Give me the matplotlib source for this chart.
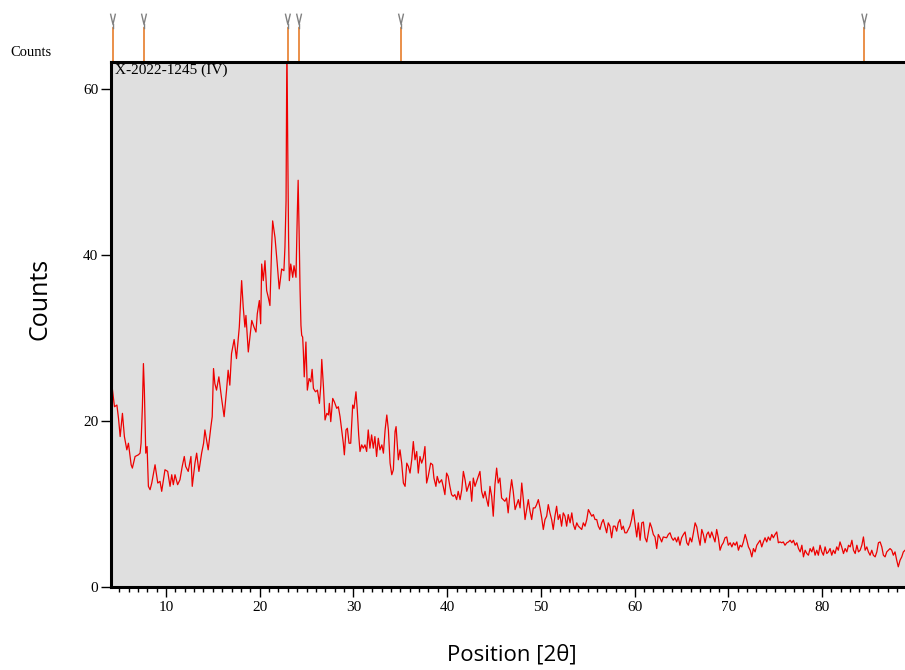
import matplotlib

matplotlib.use("Agg")
import matplotlib.pyplot as plt
import matplotlib.transforms as mtransforms
import numpy as np

# (2theta, counts), split by region
low_angle = [
    (4.15, 24.5), (4.26, 24.0), (4.50, 21.7), (4.76, 21.9), (4.93, 20.3), (5.11, 18.1),
    (5.35, 20.9), (5.56, 18.1), (5.82, 16.5), (5.99, 17.3), (6.28, 14.7), (6.41, 14.3),
    (6.70, 15.7), (7.05, 15.9), (7.23, 16.1), (7.34, 17.3), (7.48, 21.7), (7.59, 26.9),
    (7.69, 23.7), (7.84, 16.1), (7.98, 16.9), (8.12, 12.1), (8.30, 11.7), (8.48, 12.5),
    (8.83, 14.7), (9.12, 12.5), (9.36, 12.7), (9.54, 11.5), (9.89, 14.1), (10.18, 13.9),
    (10.43, 12.1), (10.61, 13.5), (10.78, 12.3), (10.96, 13.5), (11.24, 12.3), (11.49, 12.9),
    (11.73, 14.5), (11.95, 15.7), (12.10, 14.5), (12.37, 13.9), (12.66, 15.7), (12.80, 12.1),
    (13.09, 14.9), (13.27, 16.1), (13.51, 13.9), (13.80, 16.1), (14.01, 17.3), (14.15, 18.9),
    (14.33, 17.7), (14.50, 16.5), (14.79, 19.3), (14.93, 20.5), (15.07, 26.3), (15.21, 24.5),
    (15.39, 23.7), (15.64, 25.3), (15.93, 22.7), (16.20, 20.5), (16.46, 23.7), (16.63, 26.1),
    (16.81, 24.3), (16.99, 28.1), (17.27, 29.8), (17.52, 27.5),
]

hump = [
    (17.82, 31.3), (18.07, 36.9), (18.24, 33.7), (18.42, 31.3), (18.53, 32.7), (18.78, 28.3),
    (19.15, 32.1), (19.39, 31.3), (19.60, 30.7), (19.74, 32.9), (19.96, 34.5), (20.10, 31.7),
    (20.21, 38.9), (20.38, 36.9), (20.56, 39.3), (20.74, 35.7), (20.91, 34.9), (21.09, 33.9),
    (21.27, 40.9), (21.38, 44.1), (21.63, 42.1), (21.87, 38.9), (22.08, 35.9), (22.34, 38.3),
    (22.58, 38.1), (22.69, 40.9), (22.81, 46.5), (22.90, 66.0), (22.99, 53.0), (23.08, 42.0),
    (23.16, 36.9), (23.31, 38.9), (23.52, 37.3), (23.66, 38.7), (23.87, 37.3), (24.01, 45.0),
    (24.10, 49.0), (24.20, 43.0), (24.30, 36.0), (24.40, 31.5), (24.48, 30.3), (24.58, 30.1),
    (24.65, 28.5), (24.75, 25.3), (24.93, 29.5), (25.08, 23.7),
]

mid_angle = [
    (25.27, 25.1), (25.45, 24.7), (25.59, 26.2), (25.73, 23.9), (25.95, 23.5), (26.16, 23.7),
    (26.37, 22.1), (26.52, 24.3), (26.62, 27.4), (26.80, 24.1), (26.97, 20.1), (27.16, 20.9),
    (27.33, 20.7), (27.43, 22.1), (27.58, 19.9), (27.79, 22.7), (27.96, 22.3), (28.22, 21.5),
    (28.39, 21.7), (28.57, 20.5), (28.75, 18.9), (28.92, 17.3), (29.03, 15.9), (29.21, 18.9),
    (29.35, 19.1), (29.53, 17.3), (29.71, 17.3), (29.92, 21.9), (30.06, 21.5), (30.27, 23.5),
    (30.41, 21.3), (30.56, 18.3), (30.70, 16.3), (30.88, 17.1), (31.05, 16.7), (31.23, 17.1),
    (31.41, 16.3), (31.58, 18.9), (31.76, 16.7), (31.94, 18.3), (32.12, 16.7), (32.29, 18.1),
    (32.47, 15.7), (32.65, 17.9), (32.83, 16.5), (33.03, 17.1), (33.20, 16.1), (33.38, 18.9),
    (33.56, 20.7), (33.73, 18.9), (33.91, 14.9), (34.09, 13.5), (34.26, 14.1), (34.44, 18.7),
    (34.55, 19.3), (34.79, 15.3), (34.97, 16.5), (35.15, 14.9), (35.33, 12.5), (35.51, 12.1),
    (35.69, 14.9), (35.86, 14.5), (36.04, 13.7), (36.22, 15.3), (36.39, 17.5), (36.57, 15.3),
    (36.75, 16.3), (36.92, 13.7), (37.10, 15.7), (37.28, 14.9), (37.45, 15.5), (37.63, 16.9),
    (37.81, 12.5), (37.98, 13.3), (38.24, 14.9), (38.45, 14.7), (38.59, 13.1), (38.80, 12.1),
    (38.94, 13.3), (39.15, 12.5), (39.41, 12.9), (39.58, 12.1), (39.76, 11.1), (39.94, 13.7),
    (40.11, 13.3), (40.29, 12.1), (40.47, 11.1), (40.64, 10.9), (40.82, 11.1), (41.01, 10.5),
    (41.18, 11.5),
]

upper_angle = [
    (41.38, 10.5), (41.56, 11.7), (41.73, 13.9), (41.91, 12.9), (42.09, 11.5), (42.26, 12.1),
    (42.44, 12.7), (42.62, 10.3), (42.79, 13.1), (42.97, 12.1), (43.15, 12.7), (43.32, 13.3),
    (43.50, 13.9), (43.68, 11.5), (43.86, 10.7), (44.04, 11.5), (44.22, 10.5), (44.39, 9.7),
    (44.57, 12.1), (44.75, 10.9), (44.92, 8.5), (45.10, 12.3), (45.28, 14.3), (45.45, 12.5),
    (45.63, 13.1), (45.81, 10.7), (45.98, 10.5), (46.16, 10.3), (46.34, 10.7), (46.51, 8.9),
    (46.70, 11.3), (46.88, 12.9), (47.05, 11.5), (47.25, 9.3), (47.43, 9.9), (47.60, 10.5),
    (47.78, 9.5), (47.96, 12.5), (48.13, 10.5), (48.31, 8.1), (48.49, 9.3), (48.66, 10.5),
    (48.84, 9.1), (49.02, 8.1), (49.19, 9.5), (49.38, 9.5), (49.55, 9.9), (49.73, 10.5),
    (49.91, 9.5), (50.09, 8.3), (50.26, 6.9), (50.44, 8.1), (50.62, 8.5), (50.79, 9.9),
    (50.97, 8.9), (51.15, 8.1), (51.32, 6.9), (51.50, 8.5), (51.68, 9.7), (51.85, 8.1),
    (52.03, 8.7), (52.21, 7.3), (52.39, 8.9), (52.57, 8.5), (52.75, 7.3), (52.92, 8.7),
    (53.12, 7.7), (53.30, 8.9), (53.47, 7.5), (53.65, 6.9), (53.83, 7.7), (54.00, 7.3),
    (54.18, 7.1), (54.36, 6.9), (54.53, 7.7), (54.71, 7.3), (54.90, 8.1), (55.07, 9.3),
    (55.25, 8.9), (55.43, 8.5), (55.60, 8.7), (55.78, 8.1), (55.96, 8.1), (56.13, 7.3),
    (56.31, 6.9), (56.49, 7.7), (56.66, 8.1), (56.84, 7.3), (57.02, 6.5), (57.19, 7.7),
    (57.37, 7.3), (57.55, 5.9), (57.73, 7.3), (57.91, 7.3), (58.09, 6.7), (58.26, 7.7),
    (58.44, 8.1), (58.62, 6.9), (58.79, 7.3), (58.97, 6.5), (59.15, 6.5), (59.32, 6.9),
    (59.50, 7.3), (59.68, 8.1), (59.85, 9.3), (60.03, 7.7),
]

high_angle = [
    (60.23, 6.0), (60.40, 7.7), (60.59, 5.6), (60.77, 7.7), (60.94, 7.8), (61.12, 5.9),
    (61.30, 5.4), (61.47, 6.5), (61.65, 7.7), (61.83, 7.1), (62.00, 6.3), (62.18, 6.0),
    (62.36, 4.6), (62.53, 6.3), (62.71, 5.9), (62.89, 5.4), (63.06, 6.0), (63.42, 5.9),
    (63.60, 6.3), (63.78, 6.5), (63.96, 5.9), (64.13, 5.6), (64.31, 5.9), (64.49, 5.4),
    (64.66, 6.0), (64.84, 5.0), (65.02, 5.9), (65.21, 6.3), (65.39, 6.6), (65.57, 5.3),
    (65.74, 5.0), (65.92, 5.9), (66.10, 5.4), (66.28, 6.5), (66.46, 7.7), (66.64, 7.2),
    (66.81, 6.0), (66.99, 5.0), (67.17, 6.9), (67.34, 6.3), (67.52, 5.3), (67.70, 6.3),
    (67.87, 6.6), (68.05, 5.9), (68.23, 6.6), (68.40, 6.0), (68.58, 5.4), (68.76, 6.9),
    (68.94, 5.9), (69.12, 4.4), (69.30, 5.0), (69.47, 5.3), (69.65, 5.9), (69.83, 6.0),
    (70.00, 5.0), (70.20, 5.3), (70.38, 4.8), (70.55, 5.3), (70.73, 5.0), (70.91, 5.4),
    (71.08, 4.4), (71.26, 5.0), (71.44, 4.8), (71.61, 5.4), (71.80, 6.3), (71.98, 5.6),
    (72.15, 4.8), (72.33, 4.4), (72.51, 3.6), (72.68, 4.6), (72.86, 4.2), (73.04, 5.0),
    (73.21, 5.3), (73.39, 5.6), (73.57, 4.8), (73.74, 5.4), (73.92, 5.9), (74.10, 5.4),
    (74.27, 6.0), (74.46, 5.6), (74.64, 6.3), (74.81, 5.9), (74.99, 6.3), (75.17, 6.6),
    (75.34, 5.3), (75.52, 5.4), (75.70, 5.3), (75.87, 5.4), (76.05, 5.0), (76.25, 5.3),
    (76.42, 5.4), (76.60, 5.6), (76.78, 5.3), (76.95, 5.6), (77.13, 5.0), (77.31, 5.3),
    (77.49, 4.6), (77.67, 4.2), (77.85, 5.0), (78.02, 3.6), (78.20, 4.4), (78.38, 4.0),
    (78.55, 3.8), (78.73, 4.6), (78.91, 4.2), (79.08, 4.8), (79.26, 3.8), (79.44, 4.4),
    (79.61, 3.8), (79.79, 5.0), (79.98, 4.2), (80.15, 3.8), (80.33, 4.8), (80.51, 4.0),
    (80.68, 4.2), (80.86, 4.6), (81.04, 3.8), (81.21, 4.4), (81.39, 4.0), (81.57, 4.8),
    (81.74, 4.4), (81.92, 5.4), (82.10, 4.8), (82.29, 4.0), (82.47, 4.6), (82.65, 4.2),
    (82.83, 5.0), (83.01, 4.8), (83.19, 5.6), (83.36, 4.4), (83.54, 4.0), (83.72, 5.0),
    (83.89, 4.2), (84.07, 4.4), (84.25, 5.0), (84.42, 6.0), (84.60, 4.4), (84.78, 4.8),
    (84.95, 4.2), (85.13, 3.8), (85.31, 4.4), (85.48, 3.8), (85.67, 3.6), (85.85, 4.2),
    (86.02, 5.3), (86.20, 5.4), (86.38, 4.8), (86.55, 3.8), (86.73, 3.6), (86.91, 4.2),
    (87.08, 4.4), (87.26, 4.6), (87.44, 4.4), (87.61, 3.8), (87.79, 4.2), (87.97, 3.2),
    (88.14, 2.4), (88.33, 3.2), (88.51, 3.6), (88.68, 4.2), (88.86, 4.4), (89.05, 4.6),
]

# reference pattern stick positions shown above the frame
ref_peaks = [4.34, 7.65, 23.0, 24.2, 35.08, 84.52]

sample_name = "X-2022-1245 (IV)"

pts = np.array(low_angle + hump + mid_angle + upper_angle + high_angle)
two_theta, counts = pts[:, 0], pts[:, 1]

serif = "Liberation Serif"
fig = plt.figure(figsize=(9.05, 6.70), dpi=100)
ax = fig.add_axes([0.12265, 0.1243, 0.8892, 0.7831])
ax.set_facecolor("#dfdfdf")
ax.plot(two_theta, counts, color="#ee0000", lw=0.9)
ax.set_xlim(4.13, 90)
ax.set_ylim(0, 63.25)

for side in ("left", "bottom", "top"):
    ax.spines[side].set_linewidth(2.2)
ax.spines["right"].set_visible(False)

ax.set_xticks(np.arange(10, 90, 10))
ax.set_xticks(np.arange(5, 90, 1), minor=True)
ax.set_yticks([0, 20, 40, 60])
ax.tick_params(axis="x", which="major", length=7, width=1, pad=3)
ax.tick_params(axis="x", which="minor", length=3.5, width=1)
ax.tick_params(axis="y", length=7, width=1, pad=2)
for lab in ax.get_xticklabels() + ax.get_yticklabels():
    lab.set_fontfamily(serif)
    lab.set_fontsize(11)

ax.text(0.005, 0.997, sample_name, transform=ax.transAxes, ha="left", va="top",
        family=serif, fontsize=11)

# stick markers above the plot frame
trans = mtransforms.blended_transform_factory(ax.transData, ax.transAxes)
for p in ref_peaks:
    ax.plot([p, p], [1.0, 1.065], color="#e8873a", lw=1.3, transform=trans,
            clip_on=False)
    ax.plot([p, p], [1.065, 1.072], color="#808080", lw=1.0, transform=trans,
            clip_on=False)
    ax.plot([p - 0.25, p, p + 0.25], [1.091, 1.072, 1.091], color="#808080",
            lw=1.0, transform=trans, clip_on=False)

fig.text(10 / 905, 1 - 53 / 670, "Counts", family=serif, fontsize=10.5,
         ha="left", va="center")
fig.text(40 / 905, 1 - 299 / 670, "Counts", family=["Open Sans", "DejaVu Sans"],
         fontsize=18, rotation=90, ha="center", va="center")
fig.text(512 / 905, 1 - 655 / 670, "Position [2θ]",
         family=["Open Sans", "DejaVu Sans"], fontsize=16, ha="center", va="center")

fig.savefig("out.png", dpi=100)
